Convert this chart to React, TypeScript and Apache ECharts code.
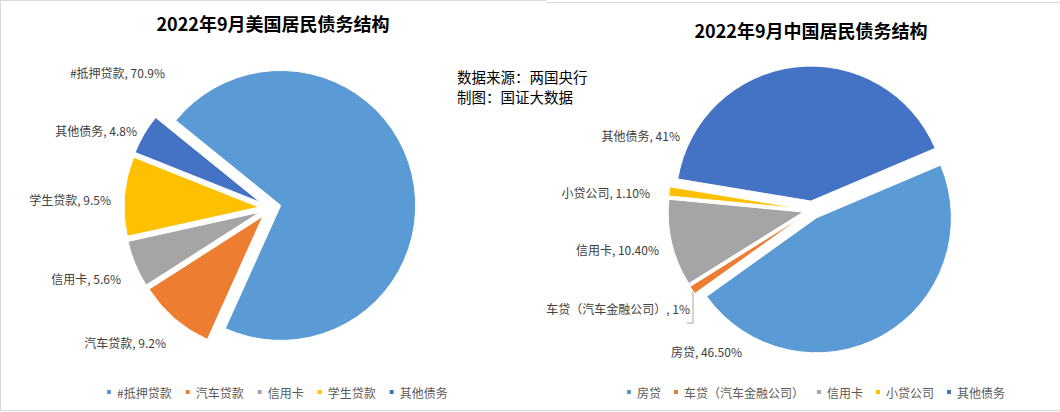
import React, { useEffect, useRef } from 'react';
import * as echarts from 'echarts';

const usTitle = '2022年9月美国居民债务结构';
const cnTitle = '2022年9月中国居民债务结构';
const sourceLines = ['数据来源：两国央行', '制图：国证大数据'];

const usNames = ['#抵押贷款', '汽车贷款', '信用卡', '学生贷款', '其他债务'];
const usValues = [70.9, 9.2, 5.6, 9.5, 4.8];
const usValueText = ['70.9%', '9.2%', '5.6%', '9.5%', '4.8%'];

const cnNames = ['房贷', '车贷（汽车金融公司）', '信用卡', '小贷公司', '其他债务'];
const cnValues = [46.5, 1, 10.4, 1.1, 41];
const cnValueText = ['46.50%', '1%', '10.40%', '1.10%', '41%'];

const sliceColors = ['#5B9BD5', '#ED7D31', '#A5A5A5', '#FFC000', '#4472C4'];

// data-label anchor points (right edge, vertical middle)
const usLabelPos = [[165, 72], [166, 342], [121, 278], [111, 199], [137, 130]];
const cnLabelPos = [[742, 351], [690, 308], [659, 249], [650, 192], [680, 135]];
// leader line for the small 车贷 label
const cnLeader = [[695, 289], [693, 291], [693, 323], [687, 323]];

const FONT = '"Noto Sans CJK SC", "Noto Sans", sans-serif';

function labelTexts(names: string[], texts: string[], pos: number[][]) {
  return names.map((n, i) => ({
    type: 'text',
    silent: true,
    x: pos[i][0],
    y: pos[i][1],
    style: {
      text: `${n}, ${texts[i]}`,
      fontSize: 12,
      fontFamily: FONT,
      fill: '#404040',
      align: 'right',
      verticalAlign: 'middle',
    },
  }));
}

export default function App() {
  const ref = useRef<HTMLDivElement>(null);
  useEffect(() => {
    if (!ref.current) return;
    const chart = echarts.init(ref.current, undefined, { renderer: 'svg' });
    const legendText = { fontSize: 12, color: '#595959', fontFamily: FONT };
    const option: any = {
      animation: false,
      backgroundColor: '#ffffff',
      title: [
        { text: usTitle, left: 273, top: 14, textAlign: 'center', padding: 0,
          textStyle: { fontSize: 18, fontWeight: 'bold', color: '#000', fontFamily: FONT } },
        { text: cnTitle, left: 811, top: 21, textAlign: 'center', padding: 0,
          textStyle: { fontSize: 18, fontWeight: 'bold', color: '#000', fontFamily: FONT } },
      ],
      legend: [
        { data: usNames, left: 105, top: 386, icon: 'rect', itemWidth: 6, itemHeight: 6, itemGap: 12, padding: 0,
          selectedMode: false, textStyle: legendText },
        { data: cnNames, left: 625, top: 386, icon: 'rect', itemWidth: 6, itemHeight: 6, itemGap: 11, padding: 0,
          selectedMode: false, textStyle: legendText },
      ],
      graphic: [
        { type: 'line', silent: true, shape: { x1: 0, y1: 0.5, x2: 546, y2: 0.5 }, style: { stroke: '#D9D9D9', lineWidth: 1 } },
        { type: 'line', silent: true, shape: { x1: 0.5, y1: 0, x2: 0.5, y2: 411 }, style: { stroke: '#D9D9D9', lineWidth: 1 } },
        { type: 'line', silent: true, shape: { x1: 546, y1: 2.5, x2: 1060, y2: 2.5 }, style: { stroke: '#D9D9D9', lineWidth: 1 } },
        { type: 'line', silent: true, shape: { x1: 0, y1: 410.5, x2: 1060, y2: 410.5 }, style: { stroke: '#D9D9D9', lineWidth: 1 } },
        { type: 'text', silent: true, x: 457, y: 66,
          style: { text: sourceLines.join('\n'), fontSize: 14.5, fontFamily: FONT, fill: '#000', lineHeight: 20 } },
        ...labelTexts(usNames, usValueText, usLabelPos),
        ...labelTexts(cnNames, cnValueText, cnLabelPos),
        { type: 'polyline', silent: true, shape: { points: cnLeader },
          style: { stroke: '#A6A6A6', lineWidth: 1, fill: 'none' } },
      ],
      series: [
        {
          type: 'pie', name: 'us', center: [270, 208], radius: 135, startAngle: 141, clockwise: true,
          selectedMode: 'multiple', selectedOffset: 11, avoidLabelOverlap: false,
          emphasis: { disabled: true }, silent: true,
          itemStyle: { borderColor: '#fff', borderWidth: 1 },
          data: usNames.map((n, i) => ({ name: n, value: usValues[i], selected: true, itemStyle: { color: sliceColors[i] } })),
          label: { show: false },
          labelLine: { show: false },
        },
        {
          type: 'pie', name: 'cn', center: [812, 210], radius: 135, startAngle: 23, clockwise: true,
          selectedMode: 'multiple', selectedOffset: 9, avoidLabelOverlap: false,
          emphasis: { disabled: true }, silent: true,
          itemStyle: { borderColor: '#fff', borderWidth: 1 },
          data: cnNames.map((n, i) => ({ name: n, value: cnValues[i], selected: true, itemStyle: { color: sliceColors[i] } })),
          label: { show: false },
          labelLine: { show: false },
        },
      ],
    };
    chart.setOption(option);
    return () => chart.dispose();
  }, []);
  return (
    <div
      ref={ref}
      style={{ position: 'fixed', left: 0, top: 0, width: 1060, height: 412, background: '#fff' }}
    />
  );
}
